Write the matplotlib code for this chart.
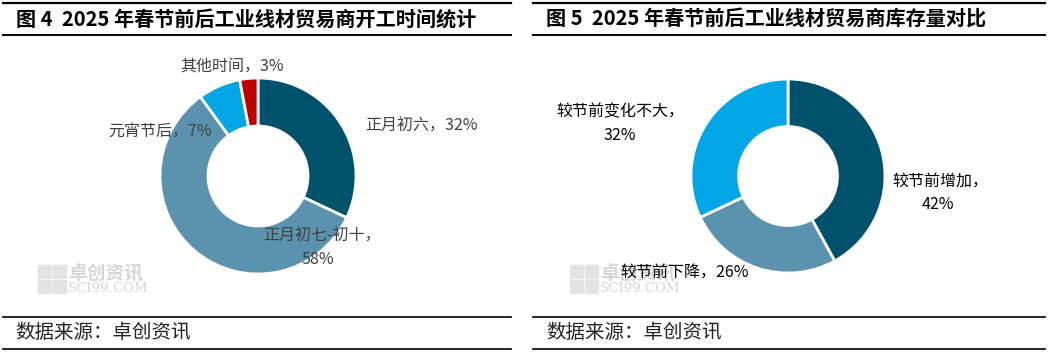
import matplotlib
matplotlib.use("Agg")
import matplotlib.pyplot as plt
from matplotlib.lines import Line2D
from matplotlib.patches import Rectangle

plt.rcParams['font.family'] = ['Noto Sans CJK SC', 'DejaVu Sans']

# 图4 开工时间
startLabels = ["正月初六", "正月初七-初十", "元宵节后", "其他时间"]
startShares = [32, 58, 7, 3]
startColors = ["#00516C", "#5B93AE", "#00A6E5", "#C00000"]

# 图5 库存对比
stockLabels = ["较节前增加", "较节前下降", "较节前变化不大"]
stockShares = [42, 26, 32]
stockColors = ["#00516C", "#5B93AE", "#00A6E5"]

titles = ["图 4  2025 年春节前后工业线材贸易商开工时间统计",
          "图 5  2025 年春节前后工业线材贸易商库存量对比"]
source = "数据来源：卓创资讯"

W, H = 1051, 357
fig = plt.figure(figsize=(W / 100, H / 100), dpi=100)


def px(x, y):
    return x / W, 1 - y / H


def hline(x0, x1, y, lw=1.2):
    fig.add_artist(Line2D([x0 / W, x1 / W], [1 - y / H, 1 - y / H],
                          color="black", lw=lw, transform=fig.transFigure))


def donut(cx, cy, r, shares, colors):
    ax = fig.add_axes([(cx - r) / W, (H - cy - r) / H, 2 * r / W, 2 * r / H])
    ax.pie(shares, colors=colors, startangle=90, counterclock=False,
           wedgeprops=dict(width=0.49, edgecolor="white", linewidth=2))
    ax.set_xlim(-1, 1)
    ax.set_ylim(-1, 1)
    ax.axis("off")
    return ax


def watermark(x, y):
    # grey logo blocks plus text, drawn behind everything
    for dx, dy, s in [(0, 0, 13), (15, 0, 13), (0, 15, 13), (15, 15, 13)]:
        fig.add_artist(Rectangle(((x + dx) / W, 1 - (y + dy + s) / H), s / W, s / H,
                                 color="#E3E3E3", transform=fig.transFigure, zorder=0))
    fig.text(*px(x + 30, y + 8), "卓创资讯", fontsize=13.5, color="#D6D6D6", va="center",
             ha="left", fontweight="bold", zorder=0)
    fig.text(*px(x + 30, y + 23), "SCI99.COM", fontsize=9.5, color="#D6D6D6", va="center",
             ha="left", family="DejaVu Serif", zorder=0)


# frame lines
for x0, x1 in [(3, 511), (533, 1045)]:
    hline(x0, x1, 3, lw=1.6)
    hline(x0, x1, 35, lw=1.4)
    hline(x0, x1, 317, lw=1.2)
    hline(x0, x1, 349, lw=1.2)

fig.text(*px(16, 19), titles[0], fontsize=14.5, fontweight="bold", va="center", ha="left")
fig.text(*px(546, 19), titles[1], fontsize=14.5, fontweight="bold", va="center", ha="left")
fig.text(*px(15, 333), source, fontsize=14, va="center", ha="left", color="#222222")
fig.text(*px(546, 333), source, fontsize=14, va="center", ha="left", color="#222222")

watermark(38, 265)
watermark(570, 265)

donut(258, 176, 98, startShares, startColors)
donut(788, 176, 97, stockShares, stockColors)

grey = "#404040"
fs = 11.5
fig.text(*px(421, 126), f"{startLabels[0]}，{startShares[0]}%", fontsize=fs, color=grey, ha="center", va="center")
fig.text(*px(322, 236), f"{startLabels[1]}，", fontsize=fs, color=grey, ha="center", va="center")
fig.text(*px(318, 259), f"{startShares[1]}%", fontsize=fs, color=grey, ha="center", va="center")
fig.text(*px(160, 131), f"{startLabels[2]}，{startShares[2]}%", fontsize=fs, color=grey, ha="center", va="center")
fig.text(*px(232, 67), f"{startLabels[3]}，{startShares[3]}%", fontsize=fs, color=grey, ha="center", va="center")

fig.text(*px(940, 181), f"{stockLabels[0]}，", fontsize=fs, color="black", ha="center", va="center")
fig.text(*px(938, 205), f"{stockShares[0]}%", fontsize=fs, color="black", ha="center", va="center")
fig.text(*px(685, 272), f"{stockLabels[1]}，{stockShares[1]}%", fontsize=fs, color="black", ha="center", va="center")
fig.text(*px(620, 112), f"{stockLabels[2]}，", fontsize=fs, color="black", ha="center", va="center")
fig.text(*px(620, 136), f"{stockShares[2]}%", fontsize=fs, color="black", ha="center", va="center")

fig.savefig("out.png", dpi=100)
